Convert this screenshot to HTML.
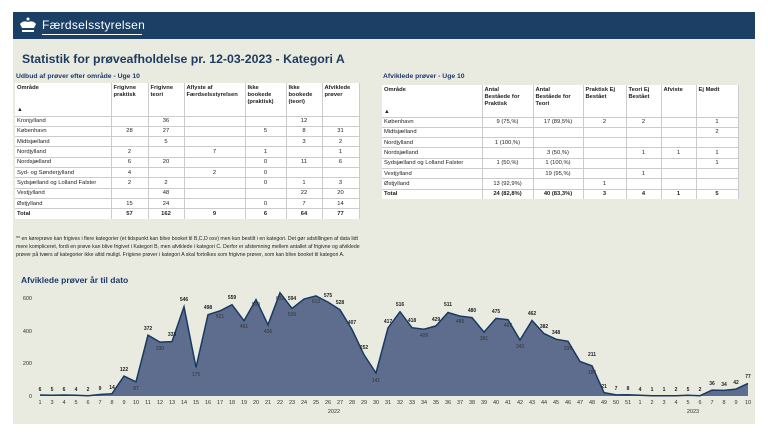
<!DOCTYPE html>
<html><head><meta charset="utf-8"><style>
*{margin:0;padding:0;box-sizing:border-box}
body{width:768px;height:435px;background:#fff;font-family:"Liberation Sans",Arial,sans-serif;position:relative;overflow:hidden}
#panel{position:absolute;left:13px;top:12px;width:742px;height:412px;background:#e9ebe1}
#hdr{position:absolute;left:13px;top:12px;width:742px;height:27px;background:#1c3f66;color:#fff}
#hdr .t{position:absolute;left:29px;top:6px;font-size:12px;letter-spacing:0.3px}
#hdr .u{position:absolute;left:29px;top:22px;width:100px;height:1px;background:#fff}
h1{position:absolute;left:22px;top:52px;font-size:12.3px;color:#1e3a5c;font-weight:bold}
.st{position:absolute;font-size:6.8px;font-weight:bold;color:#1e3a6a}
table{position:absolute;border-collapse:collapse;background:#fff;font-size:5.8px;color:#222;table-layout:fixed}
td,th{border-bottom:1px solid #ccc;border-right:1px solid #ccc;padding:0 2px;height:10.3px;text-align:center;white-space:nowrap;overflow:hidden}
th{font-weight:bold;text-align:left;vertical-align:top;padding-top:2px;line-height:7.2px}
td:first-child{text-align:left}
tr.tot td{font-weight:bold;border-bottom:none}
.fn{position:absolute;left:16px;top:235px;width:345px;font-size:5.2px;line-height:8px;color:#222}
</style></head><body>
<div id="panel"></div>
<div id="hdr"><svg style="position:absolute;left:5px;top:5px" width="20" height="17" viewBox="0 0 20 17"><path d="M2 7 Q5 3 10 5 Q15 3 18 7 L16 11 H4 Z M4 13 H16 V15 H4 Z" fill="#fff"/><circle cx="10" cy="2" r="1.5" fill="#fff"/></svg><span class="t">Færdselsstyrelsen</span><div class="u"></div></div>
<h1>Statistik for prøveafholdelse pr. 12-03-2023 - Kategori A</h1>
<div class="st" style="left:16px;top:73px">Udbud af prøver efter område - Uge 10</div>
<table style="left:15px;top:83px;width:344px">
<colgroup><col style="width:96px"><col style="width:37px"><col style="width:36px"><col style="width:61px"><col style="width:41px"><col style="width:36px"><col style="width:37px"></colgroup>
<tr><th style="height:33px">Område<br><br><br>▲</th><th>Frigivne<br>praktisk</th><th>Frigivne<br>teori</th><th>Aflyste af<br>Færdselsstyrelsen</th><th>Ikke<br>bookede<br>(praktisk)</th><th>Ikke<br>bookede<br>(teori)</th><th>Afviklede<br>prøver</th></tr>
<tr><td>Kronjylland</td><td></td><td>36</td><td></td><td></td><td>12</td><td></td></tr>
<tr><td>København</td><td>28</td><td>27</td><td></td><td>5</td><td>8</td><td>31</td></tr>
<tr><td>Midtsjælland</td><td></td><td>5</td><td></td><td></td><td>3</td><td>2</td></tr>
<tr><td>Nordjylland</td><td>2</td><td></td><td>7</td><td>1</td><td></td><td>1</td></tr>
<tr><td>Nordsjælland</td><td>6</td><td>20</td><td></td><td>0</td><td>11</td><td>6</td></tr>
<tr><td>Syd- og Sønderjylland</td><td>4</td><td></td><td>2</td><td>0</td><td></td><td></td></tr>
<tr><td>Sydsjælland og Lolland Falster</td><td>2</td><td>2</td><td></td><td>0</td><td>1</td><td>3</td></tr>
<tr><td>Vestjylland</td><td></td><td>48</td><td></td><td></td><td>22</td><td>20</td></tr>
<tr><td>Østjylland</td><td>15</td><td>24</td><td></td><td>0</td><td>7</td><td>14</td></tr>
<tr class="tot"><td>Total</td><td>57</td><td>162</td><td>9</td><td>6</td><td>64</td><td>77</td></tr>
</table>
<div class="st" style="left:383px;top:73px">Afviklede prøver - Uge 10</div>
<table style="left:382px;top:85px;width:356px">
<colgroup><col style="width:100px"><col style="width:51px"><col style="width:50px"><col style="width:43px"><col style="width:35px"><col style="width:35px"><col style="width:42px"></colgroup>
<tr><th style="height:32px">Område<br><br><br>▲</th><th>Antal<br>Beståede for<br>Praktisk</th><th>Antal<br>Beståede for<br>Teori</th><th>Praktisk Ej<br>Bestået</th><th>Teori Ej<br>Bestået</th><th>Afviste</th><th>Ej Mødt</th></tr>
<tr><td>København</td><td>9 (75,%)</td><td>17 (89,5%)</td><td>2</td><td>2</td><td></td><td>1</td></tr>
<tr><td>Midtsjælland</td><td></td><td></td><td></td><td></td><td></td><td>2</td></tr>
<tr><td>Nordjylland</td><td>1 (100,%)</td><td></td><td></td><td></td><td></td><td></td></tr>
<tr><td>Nordsjælland</td><td></td><td>3 (50,%)</td><td></td><td>1</td><td>1</td><td>1</td></tr>
<tr><td>Sydsjælland og Lolland Falster</td><td>1 (50,%)</td><td>1 (100,%)</td><td></td><td></td><td></td><td>1</td></tr>
<tr><td>Vestjylland</td><td></td><td>19 (95,%)</td><td></td><td>1</td><td></td><td></td></tr>
<tr><td>Østjylland</td><td>13 (92,9%)</td><td></td><td>1</td><td></td><td></td><td></td></tr>
<tr class="tot"><td>Total</td><td>24 (82,8%)</td><td>40 (83,3%)</td><td>3</td><td>4</td><td>1</td><td>5</td></tr>
</table>
<div class="fn">** en køreprøve kan frigives i flere kategorier (et tidspunkt kan blive booket til B,C,D osv) men kun bestilt i en kategori. Det gør udstillingen af data lidt mere kompliceret, fordi en prøve kan blive frigivet i Kategori B, men afviklede i kategori C. Derfor er afstemning mellem antallet af frigivne og afviklede prøver på tværs af kategorier ikke altid muligt. Frigivne prøver i kategori A skal fortolkes som frigivne prøver, som kan blive booket til kategori A.</div>
<div class="st" style="left:21px;top:275px;font-size:8.5px">Afviklede prøver år til dato</div>
<svg style="position:absolute;left:0;top:0" width="768" height="435" font-family="Liberation Sans,Arial,sans-serif">
<g font-size="5.5" fill="#333" text-anchor="end"><text x="32" y="398">0</text><text x="32" y="365">200</text><text x="32" y="333">400</text><text x="32" y="300">600</text></g>
<path fill="#5e6d8d" d="M40 396 L40 395 52 395.2 64 395 76 395.3 88 395.7 100 394.5 112 393.7 124 376.1 136 381.8 148 335.2 160 342.1 172 341.6 184 306.8 196 367.4 208 314.7 220 310.9 232 304.7 244 320.7 256 299.6 268 324.8 280 292.8 292 308.5 304 299 316 295.9 328 302.1 340 309.8 352 329.5 364 354.8 376 373 388 327.9 400 311.7 412 327.7 424 329.2 436 325.9 448 312.5 460 316.1 472 317.6 484 332.1 496 318.4 508 319.7 520 340 532 320.5 544 333.6 556 339.2 568 341.3 580 361.5 592 365.9 604 392.6 616 394.9 628 394.7 640 395.3 652 395.8 664 395.8 676 395.7 688 395.2 700 395.7 712 390.1 724 390.4 736 389.1 748 383.4 L748 396 Z"/>
<polyline fill="none" stroke="#173a62" stroke-width="1.5" points="40 395 52 395.2 64 395 76 395.3 88 395.7 100 394.5 112 393.7 124 376.1 136 381.8 148 335.2 160 342.1 172 341.6 184 306.8 196 367.4 208 314.7 220 310.9 232 304.7 244 320.7 256 299.6 268 324.8 280 292.8 292 308.5 304 299 316 295.9 328 302.1 340 309.8 352 329.5 364 354.8 376 373 388 327.9 400 311.7 412 327.7 424 329.2 436 325.9 448 312.5 460 316.1 472 317.6 484 332.1 496 318.4 508 319.7 520 340 532 320.5 544 333.6 556 339.2 568 341.3 580 361.5 592 365.9 604 392.6 616 394.9 628 394.7 640 395.3 652 395.8 664 395.8 676 395.7 688 395.2 700 395.7 712 390.1 724 390.4 736 389.1 748 383.4"/>
<g font-size="5" font-weight="bold" fill="#222" text-anchor="middle">
<text x="40" y="391">6</text><text x="52" y="391">5</text><text x="64" y="391">6</text><text x="76" y="391">4</text><text x="88" y="391">2</text><text x="100" y="390">9</text><text x="112" y="389">14</text><text x="124" y="371">122</text><text x="148" y="330">372</text><text x="172" y="336">333</text><text x="184" y="301">546</text><text x="208" y="309">498</text><text x="232" y="299">559</text><text x="292" y="300">594</text><text x="328" y="297">575</text><text x="340" y="304">528</text><text x="352" y="324">407</text><text x="364" y="349">252</text><text x="388" y="323">417</text><text x="400" y="306">516</text><text x="412" y="322">418</text><text x="436" y="321">429</text><text x="448" y="306">511</text><text x="472" y="312">480</text><text x="496" y="313">475</text><text x="532" y="315">462</text><text x="544" y="328">382</text><text x="556" y="334">348</text><text x="592" y="356">211</text><text x="604" y="388">21</text><text x="616" y="390">7</text><text x="628" y="390">8</text><text x="640" y="391">4</text><text x="652" y="391">1</text><text x="664" y="391">1</text><text x="676" y="391">2</text><text x="688" y="391">5</text><text x="700" y="391">2</text><text x="712" y="385">36</text><text x="724" y="386">34</text><text x="736" y="384">42</text><text x="748" y="378">77</text>
</g>
<g font-size="5" fill="#333" text-anchor="middle">
<text x="136" y="390">87</text><text x="160" y="350">330</text><text x="196" y="376">175</text><text x="220" y="318">521</text><text x="244" y="328">461</text><text x="256" y="306">590</text><text x="268" y="333">436</text><text x="280" y="300">632</text><text x="292" y="316">536</text><text x="316" y="303">613</text><text x="376" y="382">141</text><text x="424" y="337">409</text><text x="460" y="323">489</text><text x="484" y="340">391</text><text x="508" y="327">467</text><text x="520" y="348">343</text><text x="568" y="350">335</text><text x="592" y="374">184</text>
</g>
<g font-size="5.5" fill="#333" text-anchor="middle">
<text x="40" y="404">1</text><text x="52" y="404">3</text><text x="64" y="404">4</text><text x="76" y="404">5</text><text x="88" y="404">6</text><text x="100" y="404">7</text><text x="112" y="404">8</text><text x="124" y="404">9</text><text x="136" y="404">10</text><text x="148" y="404">11</text><text x="160" y="404">12</text><text x="172" y="404">13</text><text x="184" y="404">14</text><text x="196" y="404">15</text><text x="208" y="404">16</text><text x="220" y="404">17</text><text x="232" y="404">18</text><text x="244" y="404">19</text><text x="256" y="404">20</text><text x="268" y="404">21</text><text x="280" y="404">22</text><text x="292" y="404">23</text><text x="304" y="404">24</text><text x="316" y="404">25</text><text x="328" y="404">26</text><text x="340" y="404">27</text><text x="352" y="404">28</text><text x="364" y="404">29</text><text x="376" y="404">30</text><text x="388" y="404">31</text><text x="400" y="404">32</text><text x="412" y="404">33</text><text x="424" y="404">34</text><text x="436" y="404">35</text><text x="448" y="404">36</text><text x="460" y="404">37</text><text x="472" y="404">38</text><text x="484" y="404">39</text><text x="496" y="404">40</text><text x="508" y="404">41</text><text x="520" y="404">42</text><text x="532" y="404">43</text><text x="544" y="404">44</text><text x="556" y="404">45</text><text x="568" y="404">46</text><text x="580" y="404">47</text><text x="592" y="404">48</text><text x="604" y="404">49</text><text x="616" y="404">50</text><text x="628" y="404">51</text><text x="640" y="404">1</text><text x="652" y="404">2</text><text x="664" y="404">3</text><text x="676" y="404">4</text><text x="688" y="404">5</text><text x="700" y="404">6</text><text x="712" y="404">7</text><text x="724" y="404">8</text><text x="736" y="404">9</text><text x="748" y="404">10</text>
<text x="334" y="413">2022</text><text x="693" y="413">2023</text>
</g>
</svg>
</body></html>
